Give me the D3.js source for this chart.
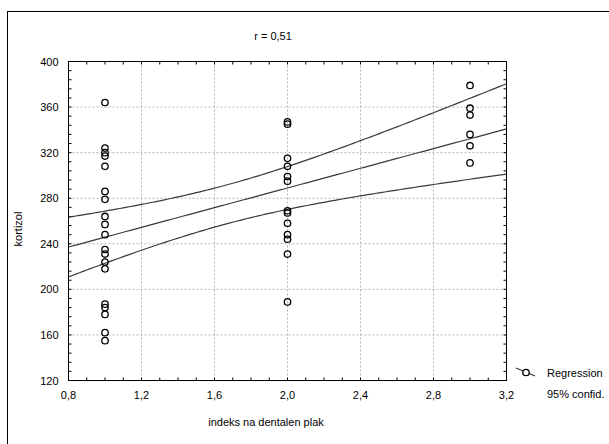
<!DOCTYPE html>
<html>
<head>
<meta charset="utf-8">
<script src="https://cdn.jsdelivr.net/npm/d3@7"></script>
<style>
  body { margin: 0; background: #fff; }
  svg { display: block; font-family: "Liberation Sans", Arial, sans-serif; }
  .grid line { stroke: #b4b4b4; stroke-dasharray: 2,2; stroke-width: 1; }
  .tickLabel { font-size: 11px; fill: #000; }
</style>
</head>
<body>
<div id="chart"></div>
<script>
// data
var plaqueIdx = [1, 2, 3];
var cortisolAt1 = [364, 324, 320, 317, 308, 286, 279, 264, 257, 248, 235, 231, 224, 218, 187, 184, 178, 162, 155];
var cortisolAt2 = [347, 345, 315, 308, 299, 295, 269, 267, 258, 248, 244, 231, 189];
var cortisolAt3 = [379, 359, 353, 336, 326, 311];
var xTicks = [0.8, 1.2, 1.6, 2.0, 2.4, 2.8, 3.2];
var yTicks = [120, 160, 200, 240, 280, 320, 360, 400];
var titleText = "r = 0,51";

var svgWidth = 609, svgHeight = 444;
var margin = { top: 61.5, right: 102.5, bottom: 63.5, left: 68.5 };
var width = svgWidth - margin.left - margin.right;
var height = svgHeight - margin.top - margin.bottom;

var points = [];
[cortisolAt1, cortisolAt2, cortisolAt3].forEach(function(arr, i) {
  arr.forEach(function(v) { points.push({ x: plaqueIdx[i], y: v }); });
});

var svg = d3.select("#chart").append("svg")
  .attr("width", svgWidth)
  .attr("height", svgHeight);

// outer frame
svg.append("rect")
  .attr("x", 7.5).attr("y", 11.5)
  .attr("width", 620).attr("height", 460)
  .attr("fill", "none").attr("stroke", "#000").attr("stroke-width", 1);

var chartGroup = svg.append("g")
  .attr("transform", `translate(${margin.left}, ${margin.top})`);

var x = d3.scaleLinear().domain([0.8, 3.2]).range([0, width]);
var y = d3.scaleLinear().domain([120, 400]).range([height, 0]);

// grid
var grid = chartGroup.append("g").attr("class", "grid");
grid.selectAll(".gx").data(xTicks.slice(1, -1)).enter().append("line")
  .attr("x1", d => x(d)).attr("x2", d => x(d))
  .attr("y1", 0).attr("y2", height);
grid.selectAll(".gy").data(yTicks.slice(1, -1)).enter().append("line")
  .attr("y1", d => y(d)).attr("y2", d => y(d))
  .attr("x1", 0).attr("x2", width);

// inward ticks on all four sides (major + minor)
var xMinor = d3.range(0.8, 3.2001, 0.1);
var yMinor = d3.range(120, 400.01, 8);
var tickLen = 3;
var ticks = chartGroup.append("g").attr("stroke", "#000").attr("stroke-width", 1);
xMinor.forEach(function(v) {
  ticks.append("line").attr("x1", x(v)).attr("x2", x(v)).attr("y1", height).attr("y2", height - tickLen);
  ticks.append("line").attr("x1", x(v)).attr("x2", x(v)).attr("y1", 0).attr("y2", tickLen);
});
yMinor.forEach(function(v) {
  ticks.append("line").attr("y1", y(v)).attr("y2", y(v)).attr("x1", 0).attr("x2", tickLen);
  ticks.append("line").attr("y1", y(v)).attr("y2", y(v)).attr("x1", width).attr("x2", width - tickLen);
});

// regression + 95% confidence bands from the points
var n = points.length;
var mx = d3.mean(points, d => d.x), my = d3.mean(points, d => d.y);
var sxx = d3.sum(points, d => (d.x - mx) * (d.x - mx));
var sxy = d3.sum(points, d => (d.x - mx) * (d.y - my));
var slope = sxy / sxx, icpt = my - slope * mx;
var sse = d3.sum(points, d => Math.pow(d.y - (icpt + slope * d.x), 2));
var s = Math.sqrt(sse / (n - 2));
var tval = 2.028;
var xs = d3.range(0.8, 3.2001, 0.02);
var fit = v => icpt + slope * v;
var half = v => tval * s * Math.sqrt(1 / n + (v - mx) * (v - mx) / sxx);

var line = d3.line().x(d => x(d[0])).y(d => y(d[1])).curve(d3.curveLinear);
[v => fit(v), v => fit(v) + half(v), v => fit(v) - half(v)].forEach(function(f) {
  chartGroup.append("path")
    .datum(xs.map(v => [v, f(v)]))
    .attr("d", line)
    .attr("fill", "none")
    .attr("stroke", "#3a3a3a")
    .attr("stroke-width", 1.2);
});

// points
chartGroup.selectAll("circle.pt").data(points).enter().append("circle")
  .attr("class", "pt")
  .attr("cx", d => x(d.x))
  .attr("cy", d => y(d.y))
  .attr("r", 3.2)
  .attr("fill", "none")
  .attr("stroke", "#000")
  .attr("stroke-width", 1.3);

// plot frame
chartGroup.append("rect")
  .attr("width", width).attr("height", height)
  .attr("fill", "none").attr("stroke", "#000").attr("stroke-width", 1);

// tick labels
chartGroup.selectAll(".xl").data(xTicks).enter().append("text")
  .attr("class", "tickLabel")
  .attr("x", d => x(d)).attr("y", height + 18)
  .attr("text-anchor", "middle")
  .text(d => d3.format(".1f")(d).replace(".", ","));
chartGroup.selectAll(".yl").data(yTicks).enter().append("text")
  .attr("class", "tickLabel")
  .attr("x", -10).attr("y", d => y(d) + 4)
  .attr("text-anchor", "end")
  .text(d => d);

// title & axis labels
svg.append("text")
  .attr("x", 273).attr("y", 40)
  .attr("text-anchor", "middle")
  .attr("font-size", "11px")
  .text(titleText);

svg.append("text")
  .attr("transform", "translate(22, 229) rotate(-90)")
  .attr("text-anchor", "middle")
  .attr("font-size", "11px")
  .text("kortizol");

svg.append("text")
  .attr("x", 266).attr("y", 426)
  .attr("text-anchor", "middle")
  .attr("font-size", "11px")
  .text("indeks na dentalen plak");

// legend
var lg = svg.append("g");
lg.append("line")
  .attr("x1", 516).attr("y1", 368).attr("x2", 535).attr("y2", 376)
  .attr("stroke", "#3a3a3a").attr("stroke-width", 1.2);
lg.append("circle")
  .attr("cx", 526).attr("cy", 372.5).attr("r", 3.2)
  .attr("fill", "#fff").attr("stroke", "#000").attr("stroke-width", 1.3);
lg.append("text").attr("x", 547).attr("y", 377).attr("font-size", "11px").text("Regression");
lg.append("text").attr("x", 547).attr("y", 398).attr("font-size", "11px").text("95% confid.");
</script>
</body>
</html>
